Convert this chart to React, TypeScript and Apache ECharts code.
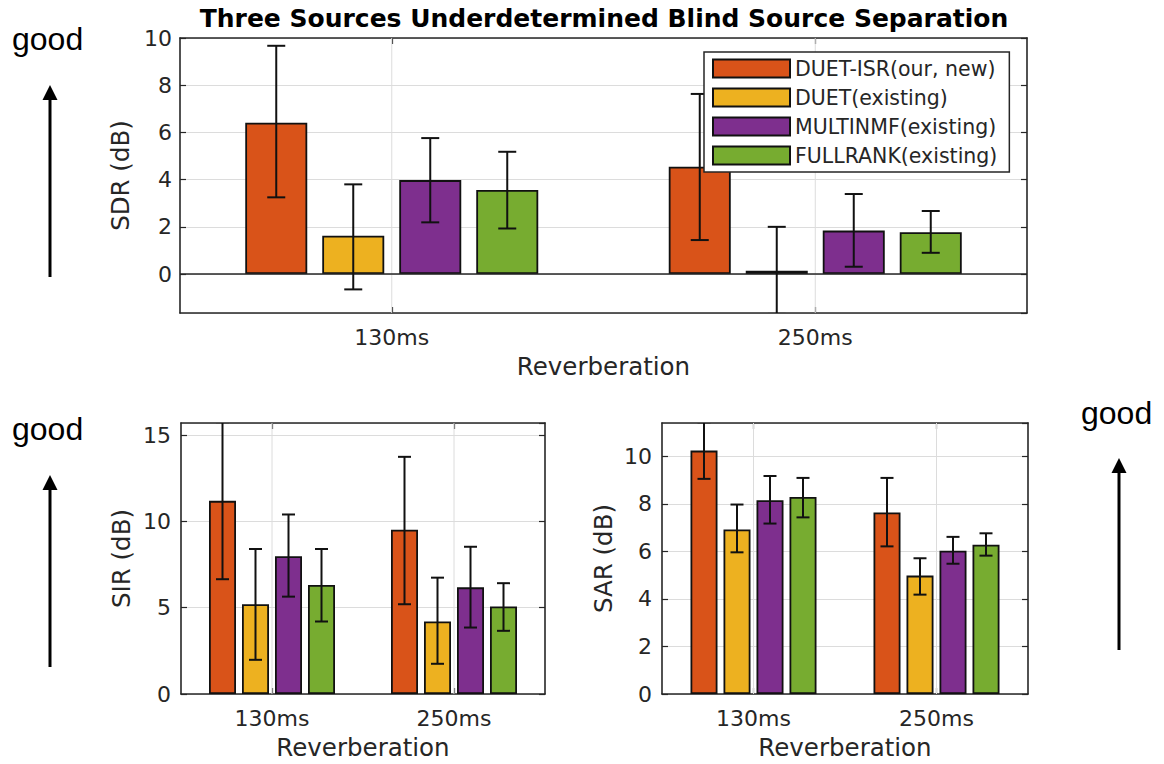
import React, { useEffect, useRef } from 'react';
import * as echarts from 'echarts';

// ---------- data ----------
const categories = ['130ms', '250ms'];
const methods = ['DUET-ISR(our, new)', 'DUET(existing)', 'MULTINMF(existing)', 'FULLRANK(existing)'];
const methodColors = ['#D95319', '#EDB120', '#7E2F8E', '#77AC30'];

// per method: [130ms, 250ms]
const sdrMean = [[6.41, 4.55], [1.62, 0.14], [3.98, 1.84], [3.56, 1.77]];
const sdrLow = [[3.25, 1.44], [-0.65, -1.69], [2.19, 0.31], [1.93, 0.9]];
const sdrHigh = [[9.67, 7.63], [3.8, 2.0], [5.76, 3.39], [5.18, 2.67]];

const sirMean = [[11.19, 9.52], [5.2, 4.2], [7.98, 6.18], [6.32, 5.07]];
const sirLow = [[6.65, 5.2], [1.98, 1.75], [5.64, 3.85], [4.2, 3.66]];
const sirHigh = [[15.75, 13.74], [8.4, 6.74], [10.4, 8.53], [8.4, 6.42]];

const sarMean = [[10.24, 7.64], [6.92, 4.98], [8.15, 6.03], [8.29, 6.28]];
const sarLow = [[9.05, 6.21], [5.96, 4.18], [7.17, 5.48], [7.43, 5.82]];
const sarHigh = [[11.43, 9.09], [7.97, 5.71], [9.17, 6.61], [9.09, 6.76]];

const titleText = 'Three Sources Underdetermined Blind Source Separation';
const xName = 'Reverberation';
const goodText = 'good';

// ---------- styles ----------
const FONT = 'DejaVu Sans';
const INK = '#262626';
const GRIDC = '#dcdcdc';
const ERR = '#111111';

type Panel = {
  mean: number[][];
  low: number[][];
  high: number[][];
  yName: string;
  min: number;
  max: number;
  interval?: number;
  splitNumber?: number;
  grid: { left: number; top: number; width: number; height: number };
  barWidth: number;
  gap: number;
  cap: number;
  yNameGap: number;
  yLabelMargin: number;
  zero: boolean;
};

const panels: Panel[] = [
  {
    mean: sdrMean, low: sdrLow, high: sdrHigh, yName: 'SDR (dB)',
    min: -1.65, max: 10, splitNumber: 5,
    grid: { left: 180, top: 38, width: 847, height: 275 },
    barWidth: 62, gap: 15, cap: 9, yNameGap: 46, yLabelMargin: 8, zero: true,
  },
  {
    mean: sirMean, low: sirLow, high: sirHigh, yName: 'SIR (dB)',
    min: 0, max: 15.7, interval: 5,
    grid: { left: 181, top: 423, width: 364, height: 271 },
    barWidth: 27, gap: 6, cap: 6.5, yNameGap: 47, yLabelMargin: 10, zero: false,
  },
  {
    mean: sarMean, low: sarLow, high: sarHigh, yName: 'SAR (dB)',
    min: 0, max: 11.4, interval: 2,
    grid: { left: 662, top: 423, width: 366, height: 271 },
    barWidth: 27, gap: 6, cap: 6.5, yNameGap: 46, yLabelMargin: 10, zero: false,
  },
];

function buildOption() {
  const grid: any[] = [];
  const xAxis: any[] = [];
  const yAxis: any[] = [];
  const series: any[] = [];

  panels.forEach((p, k) => {
    grid.push({ ...p.grid, containLabel: false, show: false });
    const axisLine = { show: true, onZero: false, lineStyle: { color: INK, width: 1.6 } };
    const tick = { show: true, inside: true, length: 6, lineStyle: { color: INK, width: 1.2 } };
    xAxis.push({
      type: 'category', gridIndex: k, data: categories, position: 'bottom',
      axisLine, axisTick: { ...tick, alignWithLabel: true },
      axisLabel: { fontSize: 22, color: INK, margin: 13, fontFamily: FONT },
      splitLine: { show: false },
      name: xName, nameLocation: 'middle', nameGap: 41,
      nameTextStyle: { fontSize: 24.5, color: INK, fontFamily: FONT },
    });
    xAxis.push({
      type: 'category', gridIndex: k, data: categories, position: 'top',
      axisLine, axisTick: { ...tick, alignWithLabel: true },
      axisLabel: { show: false }, splitLine: { show: false },
    });
    const scale: any = { min: p.min, max: p.max };
    if (p.interval != null) scale.interval = p.interval;
    if (p.splitNumber != null) scale.splitNumber = p.splitNumber;
    yAxis.push({
      type: 'value', gridIndex: k, position: 'left', ...scale,
      axisLine, axisTick: tick,
      axisLabel: {
        fontSize: 22, color: INK, margin: p.yLabelMargin, fontFamily: FONT,
        showMinLabel: k === 0 ? false : true,
        showMaxLabel: k === 0 ? true : false,
      },
      splitLine: { show: true, lineStyle: { color: GRIDC, width: 1 } },
      name: p.yName, nameLocation: 'middle', nameGap: p.yNameGap,
      nameTextStyle: { fontSize: 24.5, color: INK, fontFamily: FONT },
    });
    yAxis.push({
      type: 'value', gridIndex: k, position: 'right', ...scale,
      axisLine, axisTick: tick, axisLabel: { show: false }, splitLine: { show: false },
    });

    const xi = 2 * k;
    const yi = 2 * k;
    const total = methods.length * p.barWidth + (methods.length - 1) * p.gap;

    // vertical grid lines at category centres
    series.push({
      type: 'custom', name: `vgrid${k}`, xAxisIndex: xi, yAxisIndex: yi, z: 1, silent: true,
      data: categories.map((c, j) => [j, 0]),
      renderItem: (params: any, api: any) => {
        const cs = params.coordSys;
        const x = api.coord([api.value(0), 0])[0];
        return {
          type: 'line',
          shape: { x1: x, y1: cs.y, x2: x, y2: cs.y + cs.height },
          style: { stroke: GRIDC, lineWidth: 1 },
        };
      },
    });

    methods.forEach((m, i) => {
      series.push({
        type: 'bar', name: m, xAxisIndex: xi, yAxisIndex: yi, z: 2, silent: true,
        data: p.mean[i], barWidth: p.barWidth, barGap: `${(p.gap / p.barWidth) * 100}%`,
        itemStyle: { color: methodColors[i], borderColor: '#111', borderWidth: 1.8 },
      });
    });

    if (p.zero) {
      series.push({
        type: 'custom', name: `zero${k}`, xAxisIndex: xi, yAxisIndex: yi, z: 3, silent: true,
        data: [[0, 0]],
        renderItem: (params: any, api: any) => {
          const cs = params.coordSys;
          const y = api.coord([0, api.value(1)])[1];
          return {
            type: 'line',
            shape: { x1: cs.x, y1: y, x2: cs.x + cs.width, y2: y },
            style: { stroke: INK, lineWidth: 1.6 },
          };
        },
      });
    }

    methods.forEach((m, i) => {
      const off = -total / 2 + p.barWidth / 2 + i * (p.barWidth + p.gap);
      series.push({
        type: 'custom', name: `err${k}-${i}`, xAxisIndex: xi, yAxisIndex: yi, z: 3, silent: true,
        clip: true,
        data: categories.map((c, j) => [j, p.low[i][j], p.high[i][j]]),
        renderItem: (params: any, api: any) => {
          const ci = api.value(0);
          const lo = api.coord([ci, api.value(1)]);
          const hi = api.coord([ci, api.value(2)]);
          const x = lo[0] + off;
          const st = { stroke: ERR, lineWidth: 2 };
          return {
            type: 'group',
            children: [
              { type: 'line', shape: { x1: x, y1: lo[1], x2: x, y2: hi[1] }, style: st },
              { type: 'line', shape: { x1: x - p.cap, y1: lo[1], x2: x + p.cap, y2: lo[1] }, style: st },
              { type: 'line', shape: { x1: x - p.cap, y1: hi[1], x2: x + p.cap, y2: hi[1] }, style: st },
            ],
          };
        },
      });
    });
  });

  const arrow = (x: number, tip: number, bottom: number) => [
    { type: 'line', shape: { x1: x, y1: bottom, x2: x, y2: tip + 12 }, style: { stroke: '#000', lineWidth: 3 } },
    { type: 'polygon', shape: { points: [[x - 7.5, tip + 15], [x + 7.5, tip + 15], [x, tip]] }, style: { fill: '#000' } },
  ];
  const good = (x: number, y: number) => ({
    type: 'text', x, y,
    style: { text: goodText, fontSize: 32, fontFamily: 'Liberation Sans', fill: '#000', align: 'left', verticalAlign: 'middle' },
  });

  const graphic: any[] = [
    {
      type: 'text', x: 604, y: 18,
      style: { text: titleText, fontSize: 25, fontWeight: 'bold', fontFamily: FONT, fill: '#000', align: 'center', verticalAlign: 'middle' },
    },
    good(12, 39),
    good(12, 429),
    good(1081, 413),
    ...arrow(50, 85, 277),
    ...arrow(50, 475, 667),
    ...arrow(1119, 458, 650),
  ];

  return {
    animation: false,
    backgroundColor: '#ffffff',
    textStyle: { fontFamily: FONT },
    grid,
    xAxis,
    yAxis,
    legend: {
      show: true, data: methods, left: 704, top: 52, orient: 'vertical',
      itemWidth: 77, itemHeight: 18, itemGap: 8, icon: 'rect',
      padding: [6, 12, 6, 8], borderColor: INK, borderWidth: 1.5, borderRadius: 0,
      backgroundColor: '#ffffff', z: 10, selectedMode: false,
      textStyle: { fontSize: 20.5, color: INK, fontFamily: FONT },
    },
    series,
    graphic,
  };
}

export default function App() {
  const ref = useRef<HTMLDivElement>(null);
  useEffect(() => {
    if (!ref.current) return;
    const chart = echarts.init(ref.current, undefined, { renderer: 'svg' });
    chart.setOption(buildOption() as any);
    return () => chart.dispose();
  }, []);
  return (
    <div
      ref={ref}
      style={{ position: 'absolute', left: 0, top: 0, width: 1164, height: 764, background: '#fff' }}
    />
  );
}
